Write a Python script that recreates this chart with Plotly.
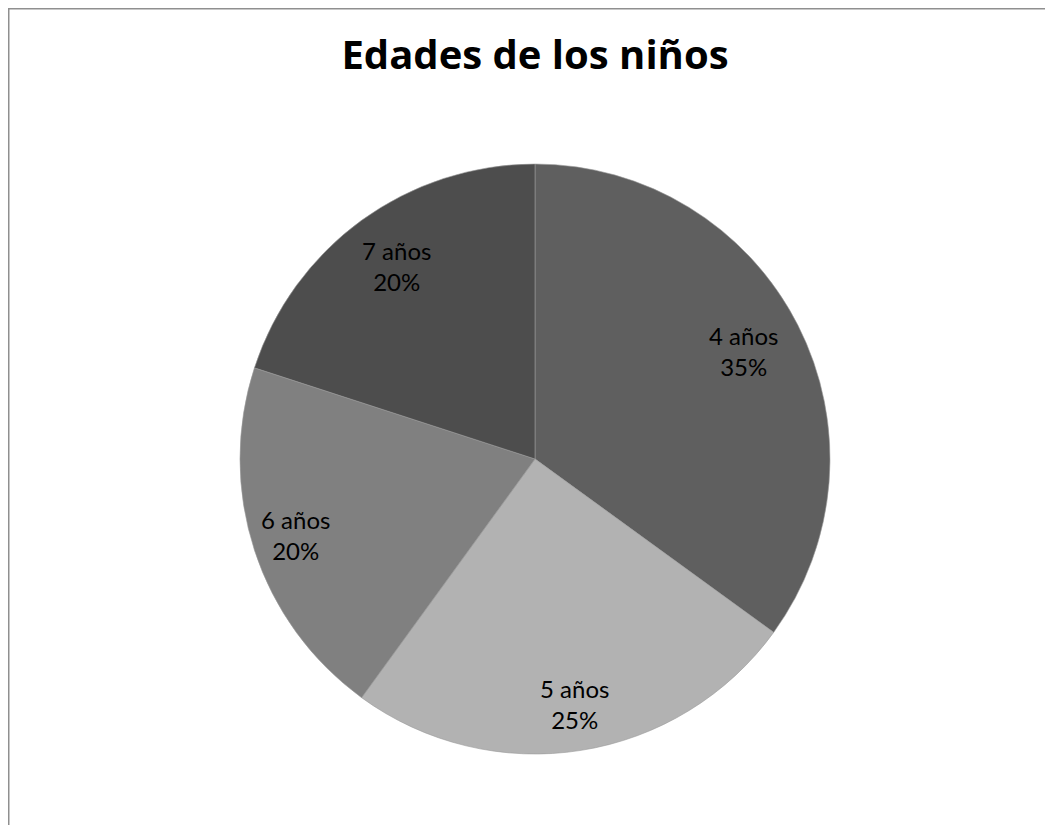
import math
import plotly.graph_objects as go

labels = ["4 años", "5 años", "6 años", "7 años"]
values = [35, 25, 20, 20]
colors = ["#5f5f5f", "#b2b2b2", "#808080", "#4d4d4d"]
label_r = [0.795, 0.847, 0.853, 0.80]  # label distance from centre, fraction of radius

W, H = 1053, 825
OFF = 8  # page body margin
cx, cy, r = 535 - OFF, 459 - OFF, 295

fig = go.Figure(go.Pie(
    labels=labels,
    values=values,
    sort=False,
    direction="clockwise",
    rotation=0,
    marker=dict(colors=colors, line=dict(color="#9a9a9a", width=0.6)),
    textinfo="none",
    showlegend=False,
    hoverinfo="label+percent",
    domain=dict(x=[(cx - r) / W, (cx + r) / W], y=[(H - cy - r) / H, (H - cy + r) / H]),
))

total = sum(values)
annotations = []
cum = 0
for lab, v, fr in zip(labels, values, label_r):
    mid = (cum + v / 2) / total * 2 * math.pi
    cum += v
    px = cx + fr * r * math.sin(mid)
    py = cy - fr * r * math.cos(mid) - 2
    annotations.append(dict(
        x=px / W, y=1 - py / H, xref="paper", yref="paper",
        text=f"{lab}<br>{round(v / total * 100)}%", showarrow=False,
        xanchor="center", yanchor="middle",
        font=dict(family="Lato", size=24, color="#000000"),
    ))

fig.update_layout(
    width=W, height=H,
    margin=dict(l=0, r=0, t=0, b=0),
    paper_bgcolor="white",
    plot_bgcolor="white",
    title=dict(text="<b>Edades de los niños</b>", x=cx / W, xanchor="center",
               y=1 - 47 / H, yanchor="middle",
               font=dict(family="Open Sans", size=40, color="#000000")),
    annotations=annotations,
    shapes=[dict(type="rect", xref="paper", yref="paper",
                 x0=0.5 / W, x1=1.02, y0=-0.05, y1=1 - 0.5 / H,
                 line=dict(color="#8f8f8f", width=2), fillcolor="rgba(0,0,0,0)")],
)

fig.write_html("out.html")
